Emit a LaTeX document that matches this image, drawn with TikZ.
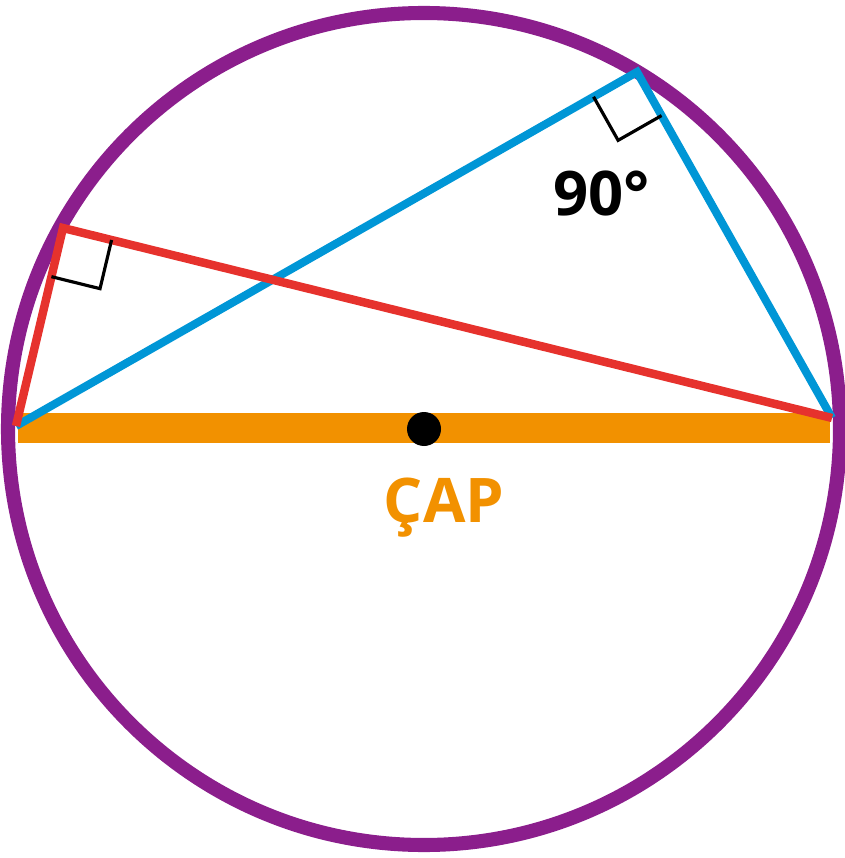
\documentclass[tikz,border=0pt]{standalone}
\usepackage{fontspec}
\setmainfont{Open Sans}
\usetikzlibrary{calc}
\definecolor{circpurple}{RGB}{139,30,140}
\definecolor{capOrange}{RGB}{242,145,0}
\definecolor{triBlue}{RGB}{0,150,214}
\definecolor{triRed}{RGB}{230,50,45}
\tikzset{
  rimline/.style={draw=circpurple, line width=4pt},
  tribluestyle/.style={draw=triBlue, line width=2.3pt, line join=miter},
  triredstyle/.style={draw=triRed, line width=2.4pt, line join=miter},
  rightmark/.style={draw=black, line width=0.9pt},
  lbl/.style={font=\fontsize{17.5}{20}\selectfont\bfseries, anchor=base}
}
\begin{document}
\begin{tikzpicture}[x=0.01cm, y=-0.01cm]
  \useasboundingbox (0,0) rectangle (844,858);
  % points on the circle
  \coordinate (O) at (424,429);
  \coordinate (A) at (16,426);
  \coordinate (B) at (832,418);
  \coordinate (C) at (637,72);
  \coordinate (D) at (63,228);
  % diameter
  \draw[draw=capOrange, line width=8.5pt] (18,428) -- (830,428);
  % circle
  \draw[rimline] (O) circle (416);
  % blue triangle
  \draw[tribluestyle] (A) -- (C) -- (B);
  % red triangle
  \draw[triredstyle] (A) -- (D) -- (B);
  % right angle marks
  \coordinate (c1) at ($(C)!0.5cm!(A)$);
  \coordinate (c2) at ($(C)!0.5cm!(B)$);
  \draw[rightmark] (c1) -- ($(c1)+(c2)-(C)$) -- (c2);
  \coordinate (d1) at ($(D)!0.5cm!(A)$);
  \coordinate (d2) at ($(D)!0.5cm!(B)$);
  \draw[rightmark] (d1) -- ($(d1)+(d2)-(D)$) -- (d2);
  % centre
  \fill[black] (O) circle (17);
  % labels
  \node[lbl, text=black] (ang) at (602,216) {90°};
  \node[lbl, text=capOrange] (cap) at (444,522) {ÇAP};
\end{tikzpicture}
\end{document}
